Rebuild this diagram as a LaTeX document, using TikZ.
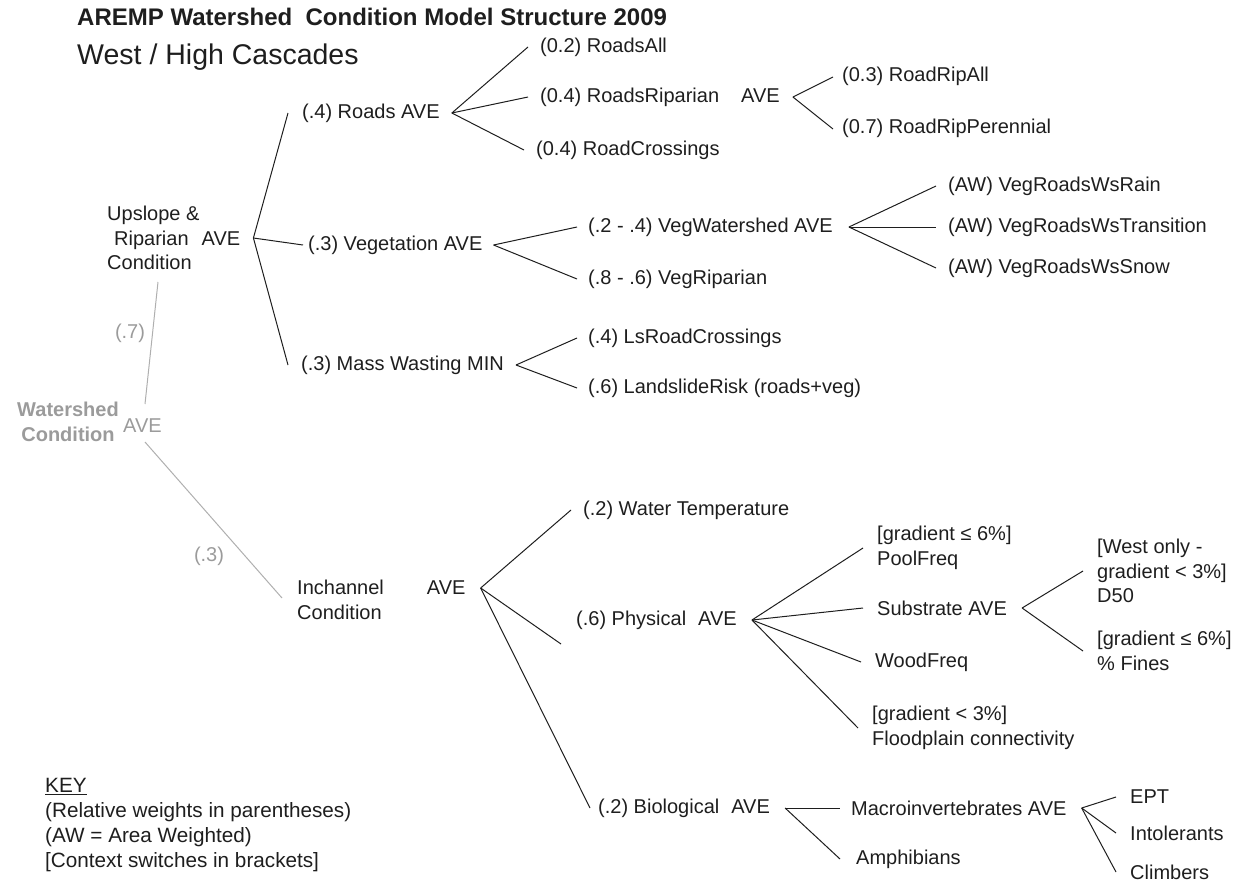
\documentclass[tikz,border=0pt]{standalone}
\usepackage{fontspec}
\setmainfont{Liberation Sans}
\usetikzlibrary{positioning}
\definecolor{TreeInk}{RGB}{30,30,30}
\definecolor{WsGray}{RGB}{155,155,155}
\definecolor{WsLine}{RGB}{175,175,175}
\tikzset{
	lbl/.style={anchor=west, inner sep=0pt, align=left, text=TreeInk,
		font=\fontsize{20}{24.5}\selectfont},
	twig/.style={draw=TreeInk, line width=1pt},
	wsline/.style={draw=WsLine, line width=1pt},
	wtlbl/.style={inner sep=0pt, text=WsGray, font=\fontsize{20}{24.5}\selectfont}
}
\begin{document}
\begin{tikzpicture}[x=1pt, y=-1pt]
	\useasboundingbox (0,0) rectangle (1247,881);
	% headings
	\node[lbl, font=\bfseries\fontsize{24}{28}\selectfont] (title) at (77,17) {AREMP Watershed\ \ Condition Model Structure 2009};
	\node[lbl, font=\fontsize{28.5}{32}\selectfont] (region) at (77,57) {West / High Cascades};
	% root
	\node[wtlbl, align=center, font=\bfseries\fontsize{20}{24.5}\selectfont] (ws) at (68,422) {Watershed\\Condition};
	\node[wtlbl, anchor=west] (wsave) at (123,426) {AVE};
	\node[wtlbl] (w7) at (130,333) {(.7)};
	\node[wtlbl] (w3) at (209,556) {(.3)};
	% level 1
	\node[lbl] (upslope) at (107,238) {Upslope \&\\\hspace{7pt}Riparian\hspace{13pt}AVE\\Condition};
	\node[lbl] (inch) at (297,600) {Inchannel\hspace{43pt}AVE\\Condition};
	\coordinate (wstop) at (145,404);
	\coordinate (wsbot) at (145,442);
	\coordinate (upfoot) at (158,282);
	\coordinate (infoot) at (282,598);
	\draw[wsline] (wstop) -- (upfoot);
	\draw[wsline] (wsbot) -- (infoot);
	% level 2
	\node[lbl] (roads) at (302,113) {(.4) Roads AVE};
	\node[lbl] (veg) at (308,245) {(.3) Vegetation AVE};
	\node[lbl] (mass) at (301,365) {(.3) Mass Wasting MIN};
	\node[lbl] (wtemp) at (583,510) {(.2) Water Temperature};
	\node[lbl] (phys) at (576,620) {(.6) Physical\hspace{12pt}AVE};
	\node[lbl] (bio) at (598,808) {(.2) Biological\hspace{12pt}AVE};
	% level 3
	\node[lbl] (rall) at (540,47) {(0.2) RoadsAll};
	\node[lbl] (rrip) at (540,97) {(0.4) RoadsRiparian\hspace{22pt}AVE};
	\node[lbl] (rcross) at (536,150) {(0.4) RoadCrossings};
	\node[lbl] (vws) at (588,227) {(.2 - .4) VegWatershed AVE};
	\node[lbl] (vrip) at (588,279) {(.8 - .6) VegRiparian};
	\node[lbl] (lsrc) at (588,338) {(.4) LsRoadCrossings};
	\node[lbl] (lsrisk) at (588,388) {(.6) LandslideRisk (roads+veg)};
	\node[lbl] (pool) at (877,548) {[gradient ≤ 6\%]\\PoolFreq};
	\node[lbl] (subs) at (877,608) {Substrate AVE};
	\node[lbl] (wood) at (875,662) {WoodFreq};
	\node[lbl] (flood) at (872,728) {[gradient < 3\%]\\Floodplain connectivity};
	\node[lbl] (macro) at (851,808) {Macroinvertebrates AVE};
	\node[lbl] (amph) at (856,859) {Amphibians};
	% level 4
	\node[lbl] (rripall) at (842,76) {(0.3) RoadRipAll};
	\node[lbl] (rripper) at (842,128) {(0.7) RoadRipPerennial};
	\node[lbl] (rain) at (948,186) {(AW) VegRoadsWsRain};
	\node[lbl] (trans) at (948,227) {(AW) VegRoadsWsTransition};
	\node[lbl] (snow) at (948,268) {(AW) VegRoadsWsSnow};
	\node[lbl] (dfifty) at (1097,571) {[West only -\\gradient < 3\%]\\D50};
	\node[lbl] (fines) at (1097,651) {[gradient ≤ 6\%]\\\% Fines};
	\node[lbl] (ept) at (1130,797) {EPT};
	\node[lbl] (intol) at (1130,833) {Intolerants};
	\node[lbl] (climb) at (1130,872) {Climbers};
	% key
	\node[lbl, font=\fontsize{20.7}{24.7}\selectfont] (key) at (45,825) {\underline{KEY}\\(Relative weights in parentheses)\\(AW = Area Weighted)\\{}[Context switches in brackets]};
	% junctions
	\coordinate (upj) at ([xshift=13pt]upslope.east);
	\coordinate (inj) at ([xshift=15pt,yshift=12pt]inch.east);
	\coordinate (rdj) at ([xshift=12pt]roads.east);
	\coordinate (rrj) at ([xshift=13pt]rrip.east);
	\coordinate (vgj) at ([xshift=11pt]veg.east);
	\coordinate (vwj) at ([xshift=16pt]vws.east);
	\coordinate (mmj) at ([xshift=12pt]mass.east);
	\coordinate (phj) at ([xshift=15pt]phys.east);
	\coordinate (sbj) at ([xshift=15pt]subs.east);
	\coordinate (bij) at ([xshift=15pt]bio.east);
	\coordinate (mcj) at ([xshift=15pt]macro.east);
	% branches
	\draw[twig] (upj) -- ([xshift=-14pt]roads.west);
	\draw[twig] (upj) -- ([xshift=-5pt]veg.west);
	\draw[twig] (upj) -- ([xshift=-13pt]mass.west);
	\draw[twig] (inj) -- ([xshift=-12pt]wtemp.west);
	\draw[twig] (inj) -- ([xshift=-15pt,yshift=-24pt]phys.west);
	\draw[twig] (inj) -- ([xshift=-8pt]bio.west);
	\foreach \c in {rall, rrip, rcross}
		\draw[twig] (rdj) -- ([xshift=-12pt]\c.west);
	\foreach \c in {rripall, rripper}
		\draw[twig] (rrj) -- ([xshift=-9pt,yshift=-1pt]\c.west);
	\foreach \c in {vws, vrip}
		\draw[twig] (vgj) -- ([xshift=-11pt]\c.west);
	\foreach \c in {rain, trans, snow}
		\draw[twig] (vwj) -- ([xshift=-12pt]\c.west);
	\foreach \c in {lsrc, lsrisk}
		\draw[twig] (mmj) -- ([xshift=-11pt]\c.west);
	\foreach \c in {pool, subs, wood, flood}
		\draw[twig] (phj) -- ([xshift=-14pt]\c.west);
	\foreach \c in {dfifty, fines}
		\draw[twig] (sbj) -- ([xshift=-14pt]\c.west);
	\draw[twig] (bij) -- ([xshift=-11pt]macro.west);
	\draw[twig] (bij) -- ([xshift=-16pt]amph.west);
	\foreach \c in {ept, intol, climb}
		\draw[twig] (mcj) -- ([xshift=-14pt]\c.west);
\end{tikzpicture}
\end{document}
